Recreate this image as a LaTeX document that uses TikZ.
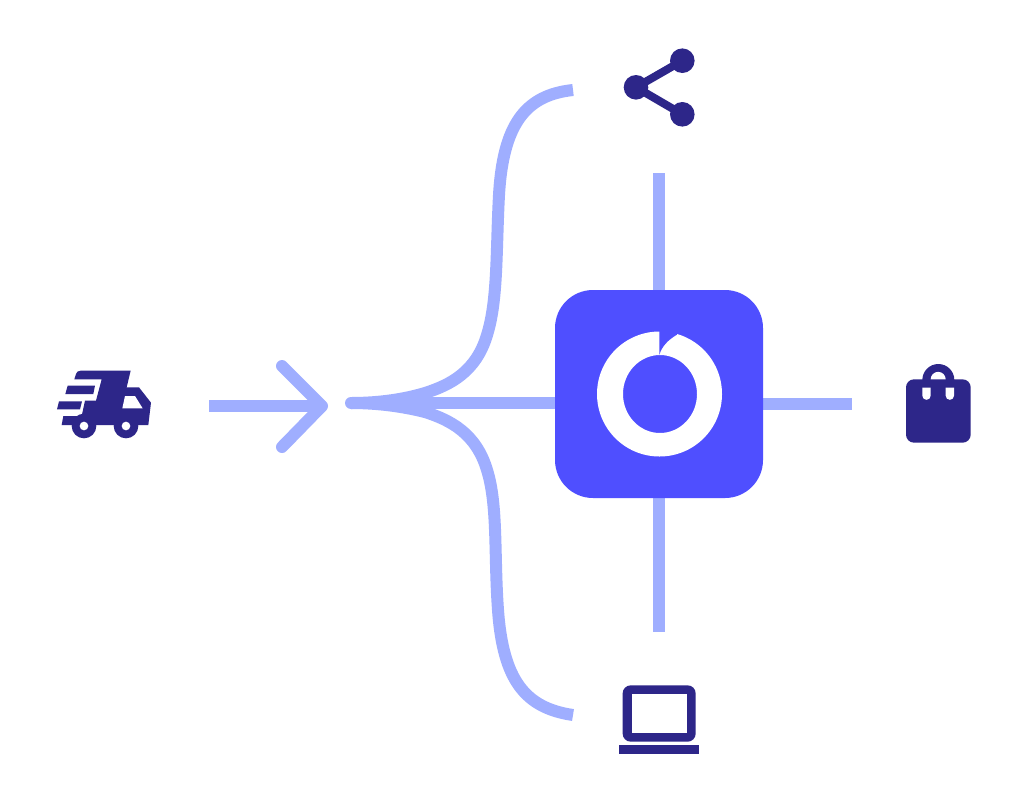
\documentclass[tikz,border=0pt]{standalone}
\definecolor{lightline}{HTML}{9FAEFF}
\definecolor{hubblue}{HTML}{4F4FFF}
\definecolor{navy}{HTML}{2D2689}
\tikzset{
  wire/.style={draw=lightline,line width=12pt},
  roundwire/.style={wire,line cap=round,line join=round},
  icon/.style={fill=navy,draw=none},
  hole/.style={fill=white,draw=none},
}
\begin{document}
\begin{tikzpicture}[x=1pt,y=-1pt]
\useasboundingbox (0,0) rectangle (1024,804);
\fill[white] (0,0) rectangle (1024,804);
% anchors
\coordinate (shareEnd) at (659,173);
\coordinate (laptopEnd) at (659,632);
\coordinate (bagEnd) at (852,404);
\coordinate (hubTop) at (659,295);
\coordinate (hubBottom) at (659,493);
\coordinate (hubRight) at (758,404);
\coordinate (hubLeft) at (560,403);
\coordinate (merge) at (351,403);
\coordinate (branchTop) at (573,90);
\coordinate (branchBottom) at (573,715);
\coordinate (arrowTail) at (209,406);
\coordinate (arrowTip) at (322,406);
\coordinate (arrowUp) at (282,366);
\coordinate (arrowDown) at (282,447);
% connectors
\draw[wire] (shareEnd) -- (hubTop);
\draw[wire] (hubBottom) -- (laptopEnd);
\draw[wire] (hubRight) -- (bagEnd);
\draw[roundwire] (merge) -- (hubLeft);
\draw[wire] (branchTop) .. controls (525,95) and (503,125) .. (499,195)
   .. controls (496,250) and (498,300) .. (487,335)
   .. controls (476,372) and (450,385) .. (425,393)
   .. controls (405,399) and (380,403) .. (merge);
\draw[wire] (branchBottom) .. controls (525,708) and (503,680) .. (498,610)
   .. controls (494,555) and (498,505) .. (487,470)
   .. controls (476,433) and (450,420) .. (425,412)
   .. controls (405,407) and (380,403) .. (merge);
\draw[wire] (arrowTail) -- (arrowTip);
\draw[roundwire] (arrowUp) -- (arrowTip) -- (arrowDown);
% hub
\node[fill=hubblue,draw=none,minimum size=208pt,inner sep=0pt,rounded corners=38pt] (hub) at (659,394) {};
% logo ring
\fill[white,even odd rule] (659.5,394) circle[radius=62.5pt]
   (660,394) ellipse[x radius=37pt,y radius=39pt];
\fill[hubblue] (659.3,328) -- (659.3,355) .. controls (662,346) and (668,340) .. (677,334.6) -- (677,328) -- cycle;
% truck (local coordinates follow the 3x crop)
\begin{scope}[shift={(40,350)},x=0.3333pt,y=-0.3333pt]
\fill[icon] (103,88) -- (108,72) .. controls (110,66) and (114,62) .. (122,62) -- (272,62) -- (260,112) -- (297,112)
  -- (333,158) -- (325,225) -- (65,225) -- (70,198) -- (125,198) -- (135,152) -- (168,152) -- (185,88) -- cycle;
\fill[icon] (83,107) -- (165,107) -- (160,132) -- (76,132) -- cycle;
\fill[icon] (57,154) -- (126,154) -- (120,178) -- (51,178) -- cycle;
\fill[icon] (132,228) circle[radius=37];
\fill[icon] (258,228) circle[radius=37];
\fill[hole] (132,228) circle[radius=13];
\fill[hole] (258,228) circle[radius=13];
\fill[hole] (255,138) -- (285,138) -- (308,175) -- (247,175) -- cycle;
\end{scope}
% bag
\begin{scope}[shift={(890,350)},x=0.3333pt,y=-0.3333pt]
\fill[icon,rounded corners=8pt] (48,88) rectangle (242,278);
\fill[icon] (97,90) arc[start angle=180,end angle=360,radius=48] -- cycle;
\fill[hole] (122,88) arc[start angle=180,end angle=360,radius=22.5] -- cycle;
\fill[hole] (97,113) -- (122,113) -- (122,137) arc[start angle=0,end angle=180,radius=12.5] -- cycle;
\fill[hole] (167,113) -- (192,113) -- (192,137) arc[start angle=0,end angle=180,radius=12.5] -- cycle;
\end{scope}
% laptop
\begin{scope}[shift={(600,670)},x=0.3333pt,y=-0.3333pt]
\fill[icon,rounded corners=8pt] (68,46) rectangle (287,215);
\fill[hole] (95,73) rectangle (260,188);
\fill[icon] (58,225) rectangle (297,252);
\end{scope}
% share
\draw[navy,line width=8pt] (682.3,60.7) -- (636,87.3) -- (682.3,114.3);
\fill[icon] (682.3,60.7) circle[radius=12.3pt];
\fill[icon] (636,87.3) circle[radius=12.3pt];
\fill[icon] (682.3,114.3) circle[radius=12.3pt];
\end{tikzpicture}
\end{document}
